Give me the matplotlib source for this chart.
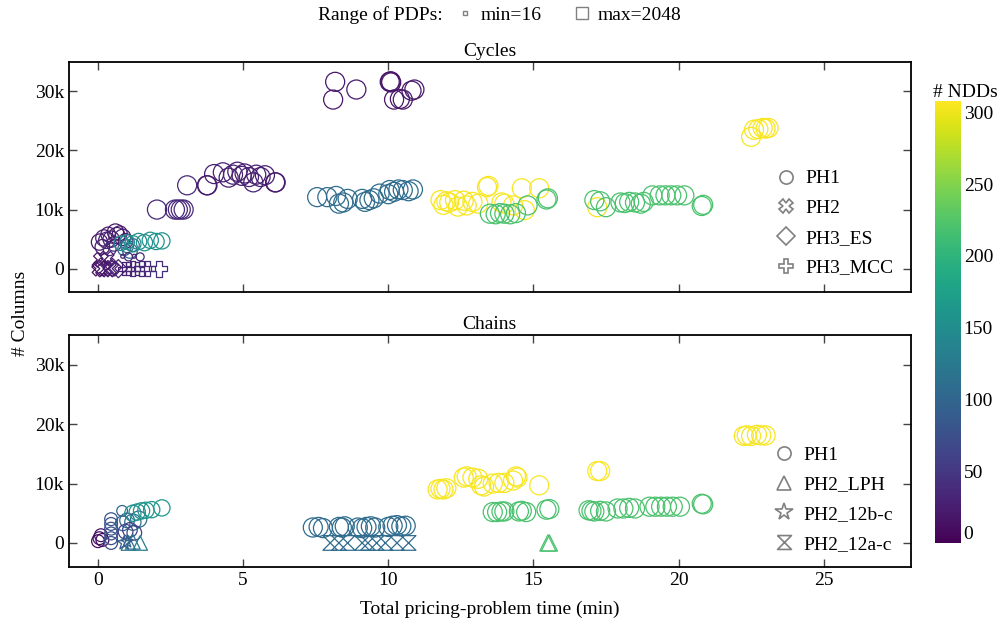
import numpy as np
import matplotlib
matplotlib.use('Agg')
import matplotlib.pyplot as plt
from matplotlib.lines import Line2D
from matplotlib.ticker import FuncFormatter
from matplotlib.colors import Normalize

plt.rcParams['font.family'] = ['Liberation Serif', 'DejaVu Serif']
plt.rcParams['font.size'] = 14

''' data read from the picture: time (min), # columns, # NDDs, # PDPs '''
# ---- Cycles ----
cyc_ph1_x = [0.05, 0.15, 0.2, 0.3, 0.35, 0.45, 0.55, 0.65, 0.75, 0.85, 0.95, 0.4, 0.6,
             0.9, 1.0, 1.1, 1.2,
             0.8, 1.0, 1.2, 1.4, 1.6, 1.8, 2.0, 2.2,
             0.85, 1.05, 1.25, 1.45,
             2.03, 2.65, 2.75, 2.85, 2.95,
             3.07, 3.75, 3.77,
             4.0, 4.3, 4.5, 4.65, 4.8, 4.95, 5.05, 5.2, 5.35, 5.45, 5.6, 5.75, 6.1, 6.12,
             8.17, 8.1, 8.9, 10.05, 10.08, 10.1, 10.2, 10.4, 10.5, 10.9, 10.8,
             7.55, 7.9, 8.2, 8.3, 8.45, 8.6, 9.1, 9.2, 9.35, 9.5, 9.7, 10.0, 10.05, 10.2,
             10.35, 10.5, 10.7, 10.85,
             11.8, 11.9, 12.0, 12.1, 12.3, 12.4, 12.6, 12.7, 12.9, 13.1, 13.4, 13.45, 13.9,
             14.0, 14.3, 14.6, 14.7, 15.2, 17.2,
             13.5, 13.7, 13.85, 14.0, 14.2, 14.4, 14.8, 15.5, 15.45, 17.1, 17.3, 17.5, 18.0,
             18.15, 18.3, 18.5, 18.7, 18.8, 19.1, 19.35, 19.55, 19.75, 19.95, 20.2, 20.8, 20.85,
             22.5, 22.6, 22.75, 22.9, 23.0, 23.1]
cyc_ph1_y = [4500, 3700, 5200, 4800, 5800, 5000, 4200, 5600, 6000, 5300, 4700, 3300, 6200,
             3300, 3800, 3000, 4000,
             4300, 4500, 4200, 4600, 4400, 4800, 4600, 4700,
             2100, 2000, 2100, 2000,
             10000, 10000, 10000, 10000, 10000,
             14100, 14100, 14100,
             16000, 16300, 15400, 15900, 16400, 15700, 16100, 15500, 14600, 15900, 15500,
             15800, 14600, 14600,
             31600, 28600, 30300, 31600, 31700, 31500, 28600, 28700, 28600, 30300, 30100,
             12100, 12100, 12300, 11000, 11200, 11800, 11800, 11300, 11600, 11900, 12700,
             12600, 13300, 13000, 13400, 13300, 13100, 13400,
             11600, 10800, 11400, 11200, 11600, 10500, 11500, 10700, 11300, 11000, 13800,
             14000, 11200, 11000, 10700, 13600, 9900, 13600, 10400,
             9300, 9200, 9400, 9300, 9200, 9400, 10700, 11900, 11700, 11600, 11400, 10400,
             11200, 11100, 11300, 11200, 11000, 11300, 12400, 12400, 12400, 12400, 12400,
             12400, 10600, 10800,
             22300, 23500, 23600, 23800, 23700, 23800]
cyc_ph1_ndd = [20, 25, 22, 30, 24, 28, 35, 22, 26, 30, 24, 40, 20,
               95, 100, 105, 110,
               150, 155, 160, 150, 155, 160, 158, 155,
               30, 35, 30, 35,
               35, 35, 35, 35, 35,
               35, 22, 22,
               25, 28, 25, 30, 25, 28, 25, 30, 28, 25, 28, 25, 22, 22,
               20, 20, 20, 18, 18, 18, 20, 20, 20, 20, 20,
               108, 108, 108, 108, 108, 108, 108, 108, 108, 108, 108, 108, 108, 108,
               108, 108, 108, 108,
               305, 305, 305, 305, 305, 305, 305, 305, 305, 305, 305, 305, 305, 305, 305,
               305, 305, 305, 305,
               220, 220, 220, 220, 220, 220, 220, 220, 220, 220, 220, 220, 220, 220, 220,
               220, 220, 220, 220, 220, 220, 220, 220, 220, 220, 220,
               305, 305, 305, 305, 305, 305]
cyc_ph1_pdp = [512, 256, 512, 512, 256, 512, 256, 512, 256, 512, 256, 128, 512,
               128, 128, 256, 128,
               256, 256, 512, 512, 512, 512, 512, 512,
               16, 32, 16, 32,
               2048, 2048, 2048, 2048, 2048,
               2048, 2048, 2048,
               2048, 2048, 2048, 2048, 2048, 2048, 2048, 2048, 2048, 2048, 2048, 2048, 2048, 2048,
               2048, 2048, 2048, 2048, 2048, 2048, 2048, 2048, 2048, 2048, 2048,
               2048, 2048, 2048, 2048, 2048, 2048, 2048, 2048, 2048, 2048, 2048, 2048, 2048, 2048,
               2048, 2048, 2048, 2048,
               2048, 2048, 2048, 2048, 2048, 2048, 2048, 2048, 2048, 2048, 2048, 2048, 2048,
               2048, 2048, 2048, 2048, 2048, 2048,
               2048, 2048, 2048, 2048, 2048, 2048, 2048, 2048, 2048, 2048, 2048, 2048, 2048,
               2048, 2048, 2048, 2048, 2048, 2048, 2048, 2048, 2048, 2048, 2048, 2048, 2048,
               2048, 2048, 2048, 2048, 2048, 2048]

cyc_ph2_x = [0.05, 0.1, 0.2, 0.3, 0.35, 0.45]
cyc_ph2_y = [0, 1500, 0, 1700, 0, 0]
cyc_ph2_ndd = [10, 15, 20, 25, 20, 30]
cyc_ph2_pdp = [256, 256, 512, 256, 512, 256]

cyc_es_x = [0.1, 0.5, 0.7]
cyc_es_y = [300, 200, 0]
cyc_es_ndd = [15, 25, 30]
cyc_es_pdp = [128, 128, 128]

cyc_mcc_x = [0.9, 1.05, 1.2, 1.35, 1.5, 1.7, 2.1]
cyc_mcc_y = [0, 0, 0, 0, 0, 0, 0]
cyc_mcc_ndd = [25, 30, 35, 30, 35, 40, 40]
cyc_mcc_pdp = [128, 128, 256, 128, 256, 256, 512]

# ---- Chains ----
chn_ph1_x = [0.0, 0.05, 0.1, 0.15,
             0.45, 0.45, 0.45, 0.45, 0.45, 0.45,
             0.83, 0.85, 1.0, 1.2, 1.4,
             0.95, 1.1, 1.25,
             1.2, 1.35, 1.5, 1.65, 1.85, 2.2,
             7.4, 7.6, 7.75, 8.3, 8.4, 8.5, 8.95, 9.1, 9.25, 9.4, 9.55, 10.0, 10.15, 10.3,
             10.45, 10.6,
             11.7, 11.8, 11.9, 12.0, 12.6, 12.7, 12.9, 13.1, 13.2, 13.3, 13.6, 13.8, 14.0,
             14.3, 14.4, 14.45, 15.2, 17.2, 17.3,
             13.6, 13.75, 13.9, 14.0, 14.5, 14.6, 14.75, 15.45, 15.55, 16.9, 17.0, 17.1, 17.3,
             17.5, 17.9, 18.1, 18.3, 18.5, 19.0, 19.2, 19.4, 19.6, 19.8, 20.05, 20.8, 20.85,
             22.25, 22.35, 22.5, 22.7, 22.85, 23.0]
chn_ph1_y = [300, 800, 1300, 500,
             0, 800, 1600, 2400, 3200, 4000,
             5400, 3300, 3800, 3500, 4000,
             1900, 2200, 1700,
             5000, 5200, 5400, 5500, 5600, 5900,
             2600, 2700, 2500, 2700, 2600, 2800, 2600, 2500, 2700, 2800, 2600, 2700, 2900,
             3000, 2800, 2900,
             9000, 9100, 9000, 9200, 11000, 11200, 11000, 10800, 9700, 9500, 10000, 10100,
             10100, 10500, 11200, 11000, 9700, 12100, 12100,
             5200, 5200, 5300, 5300, 5300, 5400, 5200, 5600, 5700, 5500, 5400, 5300, 5400,
             5300, 5800, 5800, 5900, 5800, 6100, 6100, 6100, 6100, 6100, 6100, 6600, 6500,
             18000, 18100, 18000, 18200, 18100, 18100]
chn_ph1_ndd = [10, 12, 15, 10,
               75, 75, 78, 80, 80, 82,
               100, 100, 105, 110, 110,
               60, 65, 60,
               150, 155, 158, 160, 160, 162,
               108, 108, 108, 108, 108, 108, 108, 108, 108, 108, 108, 108, 108, 108,
               108, 108,
               305, 305, 305, 305, 305, 305, 305, 305, 305, 305, 305, 305, 305,
               305, 305, 305, 305, 305, 305,
               220, 220, 220, 220, 220, 220, 220, 220, 220, 220, 220, 220, 220,
               220, 220, 220, 220, 220, 220, 220, 220, 220, 220, 220, 220, 220,
               305, 305, 305, 305, 305, 305]
chn_ph1_pdp = [128, 128, 128, 128,
               128, 128, 128, 128, 128, 128,
               64, 256, 256, 512, 512,
               256, 256, 256,
               512, 512, 512, 512, 512, 512,
               2048, 2048, 2048, 2048, 2048, 2048, 2048, 2048, 2048, 2048, 2048, 2048, 2048,
               2048, 2048, 2048,
               2048, 2048, 2048, 2048, 2048, 2048, 2048, 2048, 2048, 2048, 2048, 2048, 2048,
               2048, 2048, 2048, 2048, 2048, 2048,
               2048, 2048, 2048, 2048, 2048, 2048, 2048, 2048, 2048, 2048, 2048, 2048, 2048,
               2048, 2048, 2048, 2048, 2048, 2048, 2048, 2048, 2048, 2048, 2048, 2048, 2048,
               2048, 2048, 2048, 2048, 2048, 2048]

chn_lph_x = [1.05, 1.2, 1.45, 15.5, 15.55]
chn_lph_y = [0, 200, 0, 0, 0]
chn_lph_ndd = [120, 125, 130, 220, 220]
chn_lph_pdp = [256, 256, 256, 512, 512]

chn_12b_x = [0.9, 1.0]
chn_12b_y = [0, 200]
chn_12b_ndd = [90, 95]
chn_12b_pdp = [256, 128]

chn_12a_x = [8.0, 8.3, 8.6, 9.1, 9.3, 9.6, 9.9, 10.3, 10.7]
chn_12a_y = [0, 0, 0, 0, 0, 0, 0, 0, 0]
chn_12a_ndd = [108, 108, 108, 108, 108, 108, 108, 108, 108]
chn_12a_pdp = [256, 256, 256, 256, 256, 256, 256, 256, 256]

hourglass = [(-1, 1), (1, 1), (-1, -1), (1, -1), (-1, 1)]

def psize(pdp):
    # marker area from the number of PDPs (log scale, 16 .. 2048)
    return 8 + (np.log2(np.array(pdp)) - 4) / 7. * 180

cmap = plt.get_cmap('viridis')
norm = Normalize(vmin=0, vmax=308)

fig = plt.figure(figsize=(10.03, 6.26), dpi=100)
ax0 = fig.add_axes([0.0688, 0.533, 0.8392, 0.3684])
ax1 = fig.add_axes([0.0688, 0.0947, 0.8392, 0.3702])
cax = fig.add_axes([0.932, 0.1326, 0.026, 0.7061])

panels = {
    ax0: [(cyc_ph1_x, cyc_ph1_y, cyc_ph1_ndd, cyc_ph1_pdp, 'o', 'PH1'),
          (cyc_ph2_x, cyc_ph2_y, cyc_ph2_ndd, cyc_ph2_pdp, 'X', 'PH2'),
          (cyc_es_x, cyc_es_y, cyc_es_ndd, cyc_es_pdp, 'D', 'PH3_ES'),
          (cyc_mcc_x, cyc_mcc_y, cyc_mcc_ndd, cyc_mcc_pdp, 'P', 'PH3_MCC')],
    ax1: [(chn_ph1_x, chn_ph1_y, chn_ph1_ndd, chn_ph1_pdp, 'o', 'PH1'),
          (chn_lph_x, chn_lph_y, chn_lph_ndd, chn_lph_pdp, '^', 'PH2_LPH'),
          (chn_12b_x, chn_12b_y, chn_12b_ndd, chn_12b_pdp, '*', 'PH2_12b-c'),
          (chn_12a_x, chn_12a_y, chn_12a_ndd, chn_12a_pdp, hourglass, 'PH2_12a-c')],
}
leg_y = {ax0: 0.30, ax1: 0.29}
leg_ms = {'o': 9.5, 'X': 10, 'D': 9, 'P': 10.5, '^': 10, '*': 13}

kfmt = FuncFormatter(lambda v, p: '0' if v == 0 else '%dk' % int(round(v / 1000.)))

for ax, series in panels.items():
    handles = []
    for xs, ys, nd, pd_, mk, lab in series:
        ax.scatter(xs, ys, s=psize(pd_), marker=mk, facecolors='none',
                   edgecolors=cmap(norm(np.array(nd))), linewidths=0.9)
        ms = leg_ms.get(mk, 10) if isinstance(mk, str) else 10
        handles.append(Line2D([], [], linestyle='none', marker=mk, markersize=ms,
                              markerfacecolor='none', markeredgecolor='gray',
                              markeredgewidth=1.2, label=lab))
    ax.legend(handles=handles, loc='center right', bbox_to_anchor=(1.0, leg_y[ax]),
              frameon=False, fontsize=14, handletextpad=0.4, labelspacing=0.62,
              handlelength=1.2)
    ax.set_xlim(-1, 28)
    ax.set_ylim(-4000, 35000)
    ax.set_xticks([0, 5, 10, 15, 20, 25])
    ax.set_yticks([0, 10000, 20000, 30000])
    ax.yaxis.set_major_formatter(kfmt)
    ax.tick_params(direction='in', top=True, right=True, length=6, width=1,
                   color='#444444', labelsize=14)
    for sp in ax.spines.values():
        sp.set_linewidth(1.3)

ax0.tick_params(labelbottom=False)
ax0.set_title('Cycles', fontsize=14, pad=4)
ax1.set_title('Chains', fontsize=14, pad=4)
ax1.set_xlabel('Total pricing-problem time (min)', fontsize=14, labelpad=9)
fig.text(0.02, 0.5, '# Columns', rotation=90, ha='center', va='center', fontsize=14)

sm = plt.cm.ScalarMappable(norm=norm, cmap=cmap)
cb = fig.colorbar(sm, cax=cax, ticks=[0, 50, 100, 150, 200, 250, 300])
cb.outline.set_visible(False)
cb.ax.tick_params(length=0, labelsize=14, pad=2)
cb.ax.get_yticklabels()[0].set_va('bottom')
cax.text(-0.05, 1.0, '# NDDs', transform=cax.transAxes, ha='left', va='bottom',
         fontsize=14)

# PDP range legend on top
fig.text(0.441, 0.976, 'Range of PDPs:', ha='right', va='center', fontsize=14)
pdp_handles = [Line2D([], [], linestyle='none', marker='s', markersize=3,
                      markerfacecolor='none', markeredgecolor='gray', label='min=16'),
               Line2D([], [], linestyle='none', marker='s', markersize=8.5,
                      markerfacecolor='none', markeredgecolor='gray', label='max=2048')]
fig.legend(handles=pdp_handles, loc='center left', bbox_to_anchor=(0.446, 0.976), ncol=2,
           frameon=False, fontsize=14, handletextpad=0.3, columnspacing=1.6,
           handlelength=1.0, borderaxespad=0)

fig.savefig('out.png', dpi=100)
